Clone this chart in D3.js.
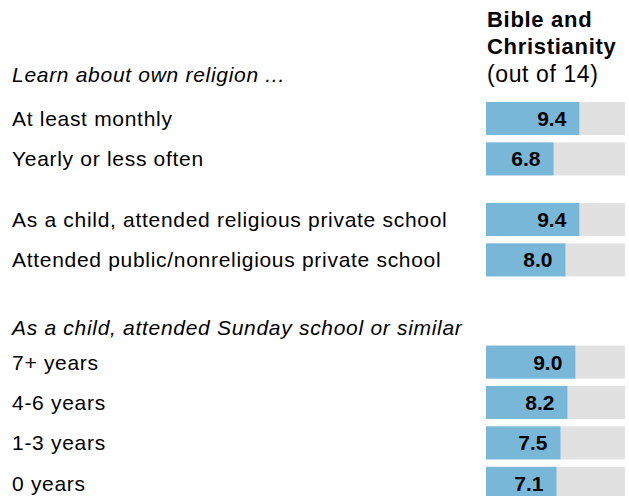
<!DOCTYPE html>
<html><head><meta charset="utf-8">
<script src="https://cdn.jsdelivr.net/npm/d3@7"></script>
<style>body{margin:0;background:#fff}svg{display:block}</style>
</head><body>
<svg id="c" width="629" height="496"></svg>
<script>
// Data
const groupHeaders = ["Learn about own religion ...", "", "As a child, attended Sunday school or similar"];
const categories = ["At least monthly","Yearly or less often",
  "As a child, attended religious private school","Attended public/nonreligious private school",
  "7+ years","4-6 years","1-3 years","0 years"];
const values = [9.4, 6.8, 9.4, 8.0, 9.0, 8.2, 7.5, 7.1];
const groupOf = [0,0,1,1,2,2,2,2];
const maxScore = 14;
const titleLines = ["Bible and", "Christianity"];
const subtitle = "(out of 14)";

// layout slots
const rowSlots = [1, 2, 3.5, 4.5, 7.03, 8.03, 9.03, 10.03];
const headerSlots = [-0.08, null, 6.19];

const svg = d3.select("#c");
const font = "'Liberation Sans', Arial, sans-serif";
const y = d3.scaleLinear().domain([0, 10]).range([78.1, 482.1]);
const x = d3.scaleLinear().domain([0, maxScore]).range([486, 625]);
const barH = 33;

// Title
const t = svg.append("text").attr("x", 487).attr("font-family", font).attr("fill", "#000");
titleLines.forEach((l, i) => t.append("tspan").attr("x", 487).attr("y", 27 + i * 27)
  .attr("font-weight", "bold").attr("font-size", 22).attr("letter-spacing", 0.7).text(l));
t.append("tspan").attr("x", 487).attr("y", 82).attr("font-size", 23).attr("letter-spacing", 0.6).text(subtitle);

// group headers
groupHeaders.forEach((h, i) => {
  if (!h) return;
  svg.append("text").attr("x", 12).attr("y", y(headerSlots[i]) + 7)
    .attr("font-family", font).attr("font-style", "italic").attr("font-size", 21)
    .attr("letter-spacing", 0.7).attr("fill", "#000").text(h);
});

const rows = svg.selectAll("g.row").data(categories.map((c, i) => ({c, v: values[i], s: rowSlots[i]})))
  .join("g").attr("class", "row");

rows.append("text").attr("x", 12).attr("y", d => y(d.s) + 7.5)
  .attr("font-family", font).attr("font-size", 21).attr("letter-spacing", 0.7)
  .attr("fill", "#000").text(d => d.c);

rows.append("rect").attr("x", x(0)).attr("y", d => y(d.s) - barH / 2)
  .attr("width", x(maxScore) - x(0)).attr("height", barH).attr("fill", "#e1e1e1");
rows.append("rect").attr("x", x(0)).attr("y", d => y(d.s) - barH / 2)
  .attr("width", d => x(d.v) - x(0)).attr("height", barH).attr("fill", "#79b7d9");
rows.append("text").attr("x", d => x(d.v) - 13).attr("y", d => y(d.s) + 7.5)
  .attr("text-anchor", "end").attr("font-family", font).attr("font-weight", "bold")
  .attr("font-size", 21).attr("fill", "#000").text(d => d.v.toFixed(1));
</script>
</body></html>
